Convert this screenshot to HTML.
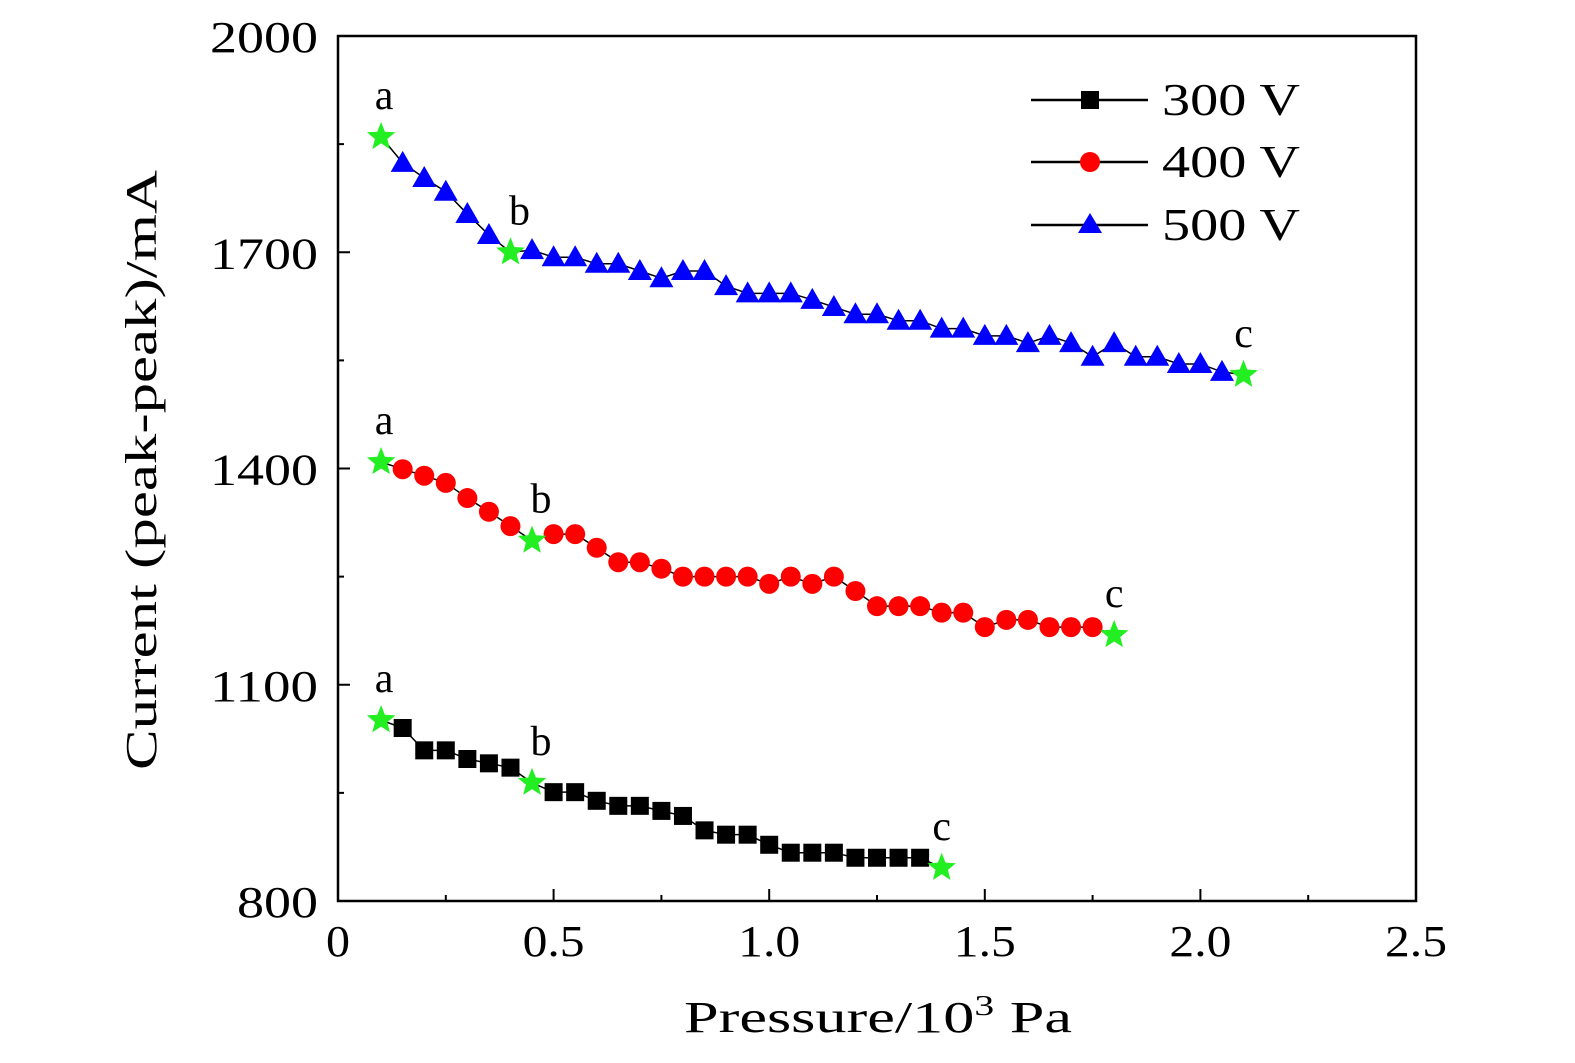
<!DOCTYPE html>
<html><head><meta charset="utf-8"><style>
html,body{margin:0;padding:0;background:#fff}
svg{display:block}
text{font-family:"Liberation Serif","DejaVu Serif",serif;fill:#000}
</style></head><body>
<svg id="chart" width="1575" height="1063" viewBox="0 0 1575 1063" xmlns="http://www.w3.org/2000/svg">
<rect x="338" y="36" width="1078" height="865" fill="none" stroke="#000" stroke-width="2.5"/>
<g id="axes"></g>
<g id="series"></g>
<text transform="translate(156,470) rotate(-90)" text-anchor="middle" font-size="44" textLength="600" lengthAdjust="spacingAndGlyphs">Current (peak-peak)/mA</text>
<text x="684" y="1032" font-size="44" textLength="388" lengthAdjust="spacingAndGlyphs">Pressure/10<tspan font-size="28" dy="-17">3</tspan><tspan dy="17"> Pa</tspan></text>
<g>
 <g><line x1="1031" y1="100" x2="1148" y2="100" stroke="#000" stroke-width="2.5"/><rect x="1081" y="91" width="18" height="18" fill="#000"/><text x="1162" y="115" font-size="46" textLength="138" lengthAdjust="spacingAndGlyphs">300 V</text></g>
 <g><line x1="1031" y1="162" x2="1148" y2="162" stroke="#000" stroke-width="2.5"/><circle cx="1090" cy="162" r="10" fill="#f00"/><text x="1162" y="177" font-size="46" textLength="138" lengthAdjust="spacingAndGlyphs">400 V</text></g>
 <g><line x1="1031" y1="225" x2="1148" y2="225" stroke="#000" stroke-width="2.5"/><polygon points="1090,213 1102,233 1078,233" fill="#00f"/><text x="1162" y="240" font-size="46" textLength="138" lengthAdjust="spacingAndGlyphs">500 V</text></g>
</g>
</svg>
<script>
const xTicks=[0,0.5,1.0,1.5,2.0,2.5];
const xTickLabels=["0","0.5","1.0","1.5","2.0","2.5"];
const yTicks=[800,1100,1400,1700,2000];
const yTickLabels=["800","1100","1400","1700","2000"];
const p300=[0.15,0.2,0.25,0.3,0.35,0.4,0.5,0.55,0.6,0.65,0.7,0.75,0.8,0.85,0.9,0.95,1.0,1.05,1.1,1.15,1.2,1.25,1.3,1.35];
const v300=[1040,1009,1009,997,991,985,951,951,939,932,932,925,918,898,892,892,878,867,867,867,860,860,860,860];
const p400=[0.15,0.2,0.25,0.3,0.35,0.4,0.5,0.55,0.6,0.65,0.7,0.75,0.8,0.85,0.9,0.95,1.0,1.05,1.1,1.15,1.2,1.25,1.3,1.35,1.4,1.45,1.5,1.55,1.6,1.65,1.7,1.75];
const v400=[1399,1390,1380,1359,1340,1320,1309,1309,1290,1270,1270,1261,1250,1250,1250,1250,1240,1250,1240,1250,1230,1209,1209,1209,1200,1200,1180,1190,1190,1180,1180,1180];
const p500=[0.15,0.2,0.25,0.3,0.35,0.45,0.5,0.55,0.6,0.65,0.7,0.75,0.8,0.85,0.9,0.95,1.0,1.05,1.1,1.15,1.2,1.25,1.3,1.35,1.4,1.45,1.5,1.55,1.6,1.65,1.7,1.75,1.8,1.85,1.9,1.95,2.0,2.05];
const v500=[1824,1803,1784,1753,1724,1703,1693,1693,1684,1684,1674,1664,1674,1674,1653,1643,1643,1643,1634,1624,1614,1614,1605,1605,1594,1594,1584,1584,1574,1584,1574,1555,1574,1555,1555,1545,1545,1534];
const star300p=[0.1,0.45,1.4], star300v=[1051,964,846];
const star400p=[0.1,0.45,1.8], star400v=[1409,1300,1169];
const star500p=[0.1,0.4,2.1], star500v=[1860,1700,1530];
const starLabels=["a","b","c"];

const NS="http://www.w3.org/2000/svg";
const X=p=>338+p*(1078/2.5);
const Y=v=>901-(v-800)*(865/1200);
function mk(tag,attrs,parent){const e=document.createElementNS(NS,tag);for(const k in attrs)e.setAttribute(k,attrs[k]);parent.appendChild(e);return e;}
const ax=document.getElementById('axes');
xTicks.forEach((t,i)=>{
 const l=mk('line',{x1:X(t),x2:X(t),y1:901,y2:889,stroke:'#000','stroke-width':2},ax);
 
 
 if(i<xTicks.length-1){const m=mk('line',{x1:X(t+0.25),x2:X(t+0.25),y1:901,y2:895,stroke:'#000','stroke-width':2},ax);
 
 }
 const lab=xTickLabels[i];
 const tx=mk('text',{x:X(t),y:956,'text-anchor':'middle','font-size':44,textLength:lab.length===1?24:62,lengthAdjust:'spacingAndGlyphs'},ax);tx.textContent=lab;
 
 
});
yTicks.forEach((t,i)=>{
 const l=mk('line',{x1:338,x2:350,y1:Y(t),y2:Y(t),stroke:'#000','stroke-width':2},ax);
 
 
 if(i<yTicks.length-1){const m=mk('line',{x1:338,x2:344,y1:Y(t+150),y2:Y(t+150),stroke:'#000','stroke-width':2},ax);
 
 }
 const lab=yTickLabels[i];
 const tx=mk('text',{x:318,y:Y(t)+16,'text-anchor':'end','font-size':44,textLength:lab.length*27,lengthAdjust:'spacingAndGlyphs'},ax);tx.textContent=lab;
 
 
});
const sg=document.getElementById('series');
function starPts(cx,cy,R,r){let s=[];for(let k=0;k<10;k++){const a=-Math.PI/2+k*Math.PI/5;const rr=k%2?r:R;s.push((cx+rr*Math.cos(a)).toFixed(1)+','+(cy+rr*Math.sin(a)).toFixed(1));}return s.join(' ');}
function series(name,ps,vs,sp,sv,shape,color){
 const g=mk('g',{},sg);
 
 
 const all=[];sp.forEach((p,i)=>all.push([p,sv[i]]));ps.forEach((p,i)=>all.push([p,vs[i]]));all.sort((a,b)=>a[0]-b[0]);
 const line=mk('polyline',{points:all.map(d=>X(d[0])+','+Y(d[1])).join(' '),fill:'none',stroke:'#000','stroke-width':1.5},g);
 
 
 ps.forEach((p,i)=>{const cx=X(p),cy=Y(vs[i]);let e;
  if(shape==='sq')e=mk('rect',{x:cx-9,y:cy-9,width:18,height:18,fill:color},g);
  else if(shape==='ci')e=mk('circle',{cx:cx,cy:cy,r:10,fill:color},g);
  else e=mk('polygon',{points:`${cx},${cy-12} ${cx+12},${cy+9} ${cx-12},${cy+9}`,fill:color},g);
  
  
 });
 sp.forEach((p,i)=>{const cx=X(p),cy=Y(sv[i]);
  const s=mk('polygon',{points:starPts(cx,cy,15,6.5),fill:'#22ee22'},g);
  
  
  const t=mk('text',{x:cx+(i===0?3:i===1?9:0),y:cy-28,'text-anchor':'middle','font-size':42},g);t.textContent=starLabels[i];
  
  
 });
}
series('300v',p300,v300,star300p,star300v,'sq','#000');
series('400v',p400,v400,star400p,star400v,'ci','#f00');
series('500v',p500,v500,star500p,star500v,'tr','#00f');
</script>
</body></html>
